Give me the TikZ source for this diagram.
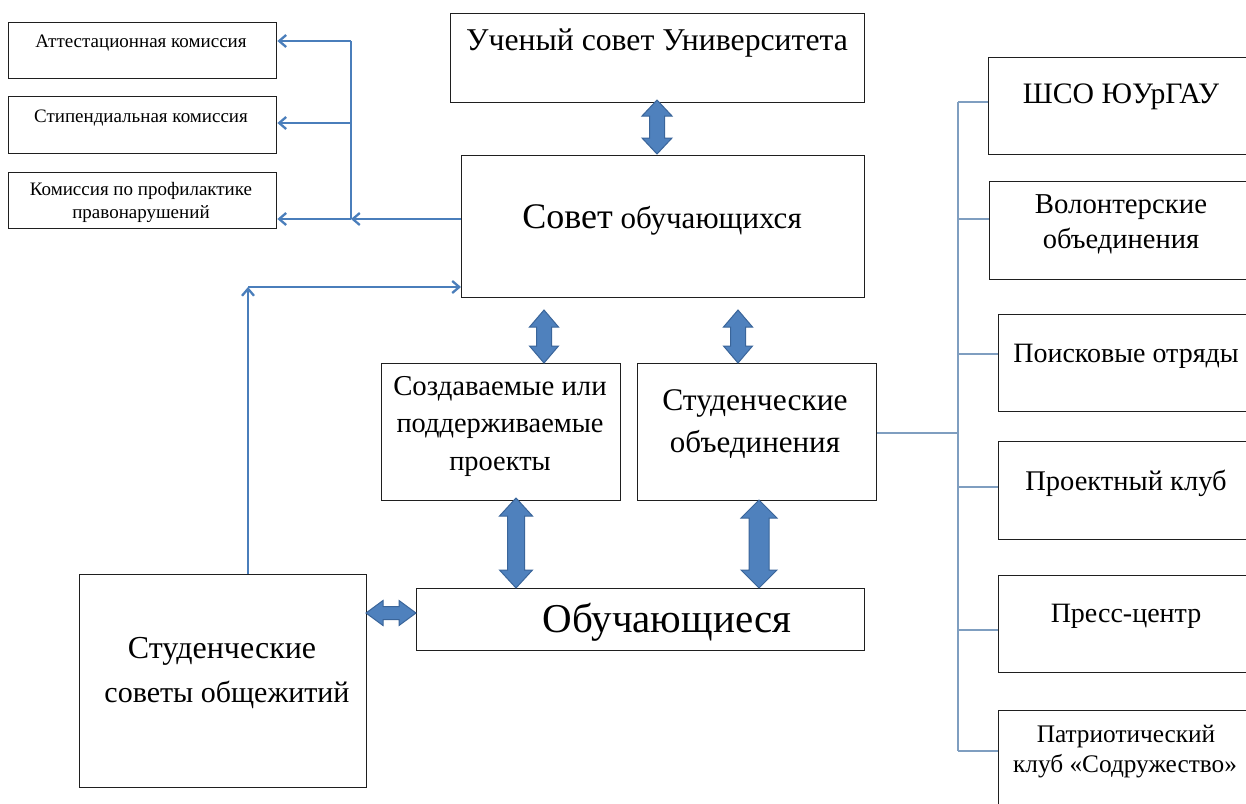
\documentclass[tikz,border=0pt]{standalone}
\usepackage{fontspec}
\setmainfont{Liberation Serif}
\usetikzlibrary{arrows.meta,calc}
\definecolor{thinblue}{HTML}{4A7EBB}
\definecolor{treeblue}{HTML}{7F9EC0}
\definecolor{fatfill}{HTML}{4F81BD}
\definecolor{fatedge}{HTML}{3A659A}
\newcommand{\fsz}[1]{\fontsize{#1}{#1}\selectfont}
% vertical fat double arrow: x, ytop, ybottom, half shaft, half head, head length
\newcommand{\fatv}[6]{%
  \filldraw[fatarrow] (#1,#2) -- (#1+#5,#2+#6) -- (#1+#4,#2+#6) -- (#1+#4,#3-#6)
    -- (#1+#5,#3-#6) -- (#1,#3) -- (#1-#5,#3-#6) -- (#1-#4,#3-#6)
    -- (#1-#4,#2+#6) -- (#1-#5,#2+#6) -- cycle;}
% horizontal fat double arrow: y, xleft, xright, half shaft, half head, head length
\newcommand{\fath}[6]{%
  \filldraw[fatarrow] (#2,#1) -- (#2+#6,#1-#5) -- (#2+#6,#1-#4) -- (#3-#6,#1-#4)
    -- (#3-#6,#1-#5) -- (#3,#1) -- (#3-#6,#1+#5) -- (#3-#6,#1+#4)
    -- (#2+#6,#1+#4) -- (#2+#6,#1+#5) -- cycle;}
\begin{document}
\begin{tikzpicture}[x=1pt,y=-1pt,
  box/.style={draw=black!88, line width=1.4pt, inner sep=0pt, anchor=north west},
  txt/.style={anchor=base, inner sep=0pt},
  thinline/.style={draw=thinblue, line width=2.3pt},
  thinarr/.style={draw=thinblue, line width=2.3pt, -{Straight Barb[length=7pt,width=12pt]}},
  tree/.style={draw=treeblue, line width=1.3pt},
  fatarrow/.style={fill=fatfill, draw=fatedge, line width=1pt, line join=miter}]
\useasboundingbox (0,0) rectangle (1246,803);
\fill[white] (0,0) rectangle (1246,803);
\clip (0,0) rectangle (1246,803);

% ---- boxes
\node[box, minimum width=268pt, minimum height=56pt] (att)   at (8,22) {};
\node[box, minimum width=268pt, minimum height=57pt] (stip)  at (8,96) {};
\node[box, minimum width=268pt, minimum height=56pt] (prof)  at (8,172) {};
\node[box, minimum width=414pt, minimum height=89pt] (uch)   at (450,13) {};
\node[box, minimum width=403pt, minimum height=142pt] (sovet) at (461,155) {};
\node[box, minimum width=239pt, minimum height=137pt] (proj)  at (381,363) {};
\node[box, minimum width=239pt, minimum height=137pt] (studob) at (637,363) {};
\node[box, minimum width=448pt, minimum height=62pt] (obuch) at (416,588) {};
\node[box, minimum width=287pt, minimum height=213pt] (dorm)  at (79,574) {};
\node[box, minimum width=266pt, minimum height=97pt] (shso)  at (988,57) {};
\node[box, minimum width=265pt, minimum height=98pt] (vol)   at (989,181) {};
\node[box, minimum width=256pt, minimum height=97pt] (poisk) at (998,314) {};
\node[box, minimum width=256pt, minimum height=98pt] (pclub) at (998,441) {};
\node[box, minimum width=256pt, minimum height=97pt] (press) at (998,575) {};
\node[box, minimum width=256pt, minimum height=120pt] (patr) at (998,710) {};

% ---- texts
\node[txt, font=\fsz{19}] (t-att)  at (141,47)  {Аттестационная комиссия};
\node[txt, font=\fsz{19}] (t-stip) at (141,122) {Стипендиальная комиссия};
\node[txt, font=\fsz{19}] (t-prof1) at (141,195) {Комиссия по профилактике};
\node[txt, font=\fsz{19}] (t-prof2) at (141,218) {правонарушений};
\node[txt, font=\fsz{31.7}] (t-uch)  at (657,50)  {Ученый совет Университета};
\node[txt, font=\fsz{31}] (t-sov) at (662,228) {{\fsz{36}Совет} обучающихся};
\node[txt, font=\fsz{28.8}] (t-pr1) at (500,395) {Создаваемые или};
\node[txt, font=\fsz{28.4}] (t-pr2) at (500,432) {поддерживаемые};
\node[txt, font=\fsz{28.4}] (t-pr3) at (500,470) {проекты};
\node[txt, font=\fsz{31.5}] (t-so1) at (755,410) {Студенческие};
\node[txt, font=\fsz{31}] (t-so2) at (755,452) {объединения};
\node[txt, font=\fsz{41}] (t-ob)  at (667,632) {Обучающиеся};
\node[txt, font=\fsz{32}] (t-d1)  at (222,658) {Студенческие};
\node[txt, font=\fsz{30}] (t-d2)  at (227,702) {советы общежитий};
\node[txt, font=\fsz{29.7}] (t-shso) at (1121,103) {ШСО ЮУрГАУ};
\node[txt, font=\fsz{28.8}] (t-vol1) at (1121,213) {Волонтерские};
\node[txt, font=\fsz{28.5}] (t-vol2) at (1121,248) {объединения};
\node[txt, font=\fsz{28}] (t-poisk) at (1126,362) {Поисковые отряды};
\node[txt, font=\fsz{28.5}] (t-pclub) at (1126,490) {Проектный клуб};
\node[txt, font=\fsz{28}] (t-press) at (1126,622) {Пресс-центр};
\node[txt, font=\fsz{25.3}] (t-patr1) at (1126,742) {Патриотический};
\node[txt, font=\fsz{25.3}] (t-patr2) at (1125,772) {клуб «Содружество»};

% ---- thin arrows to commissions
\coordinate (j1) at (351,41);
\coordinate (j2) at (351,123);
\coordinate (j3) at (351,219);
\draw[thinline] (j3) -- (j1);
\draw[thinarr] (j1) -- (att.east |- j1);
\draw[thinarr] (j2) -- (stip.east |- j2);
\draw[thinarr] (sovet.west |- j3) -- (j3);
\draw[thinarr] (j3) -- (prof.east |- j3);

% ---- dorm councils to student council
\coordinate (c1) at (248,287);
\draw[thinarr] (dorm.north -| c1) -- (c1);
\draw[thinarr] (c1) -- (sovet.west |- c1);

% ---- tree on the right
\coordinate (b1) at (958,102);
\coordinate (b2) at (958,219);
\coordinate (b3) at (958,354);
\coordinate (b0) at (958,433);
\coordinate (b4) at (958,487);
\coordinate (b5) at (958,630);
\coordinate (b6) at (958,751);
\draw[tree] (b1) -- (b6);
\draw[tree] (b1) -- (shso.west |- b1);
\draw[tree] (b2) -- (vol.west |- b2);
\draw[tree] (b3) -- (poisk.west |- b3);
\draw[tree] (studob.east |- b0) -- (b0);
\draw[tree] (b4) -- (pclub.west |- b4);
\draw[tree] (b5) -- (press.west |- b5);
\draw[tree] (b6) -- (patr.west |- b6);

% ---- fat double arrows
\fatv{657}{100}{154}{7.5}{15}{16}
\fatv{544}{310}{363}{7.5}{14.5}{17}
\fatv{738}{310}{363}{7.5}{14.5}{17}
\fatv{516}{498}{588}{8.5}{16.5}{18}
\fatv{759}{500}{588}{10}{18}{18}
\fath{613}{366}{416}{6.5}{12.5}{17}
\end{tikzpicture}
\end{document}
